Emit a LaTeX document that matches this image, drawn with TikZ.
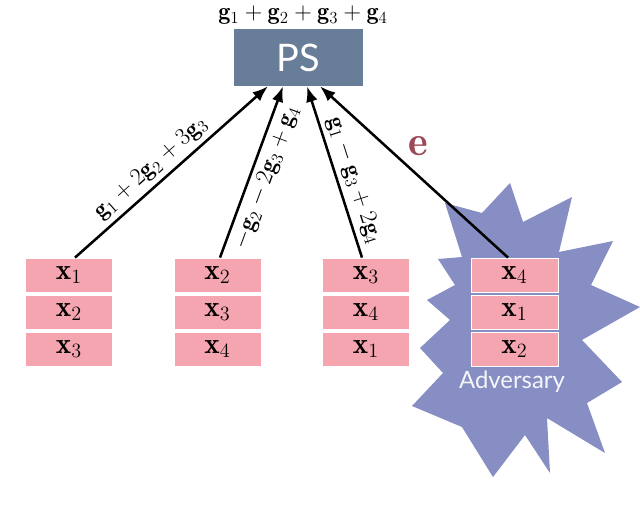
\documentclass[tikz,border=0pt]{standalone}
\usepackage{amsmath}
\usepackage{amssymb}
\usepackage{fontspec}
\newfontfamily\gillish{Lato}
\usetikzlibrary{arrows.meta}
\definecolor{psblue}{HTML}{687D98}
\definecolor{datapink}{HTML}{F5A5AF}
\definecolor{advblue}{HTML}{868EC3}
\definecolor{errred}{HTML}{9A4A58}
\newcommand{\gv}{\mathbf{g}}
\newcommand{\xv}{\mathbf{x}}

\begin{document}
\begin{tikzpicture}[x=0.025cm, y=-0.025cm, >=Latex,
    psbox/.style={fill=psblue, text=white, minimum width=3.225cm, minimum height=1.425cm,
      inner sep=0pt, font=\gillish\fontsize{27}{30}\selectfont},
    databox/.style={fill=datapink, draw=white, line width=0.6pt, minimum width=2.175cm,
      minimum height=0.85cm, inner sep=0pt, font=\huge},
    msg/.style={line width=1.8pt},
    lbl/.style={font=\LARGE, sloped}]
  \useasboundingbox (0,0) rectangle (640,516);

  % the adversary's burst, behind everything else
  \fill[advblue] (445,203) -- (482,213) -- (510,183) -- (523,222) -- (572,197)
    -- (559,252) -- (613,241) -- (591,285) -- (640,307) -- (582,340) -- (622,382)
    -- (587,403) -- (605,453) -- (547,418) -- (550,473) -- (525,435) -- (493,477)
    -- (462,427) -- (412,406) -- (443,373) -- (420,348) -- (450,320) -- (427,300)
    -- (455,285) -- (438,259) -- (462,257) -- cycle;

  \node[font=\LARGE] (SUM) at (303,15) {$\gv_1 + \gv_2 + \gv_3 + \gv_4$};
  \node[psbox] (PS) at (298.5,57.5) {PS};

  \node[databox] (W11) at (69,275)    {$\xv_1$};
  \node[databox] (W12) at (69,312)    {$\xv_2$};
  \node[databox] (W13) at (69,349)    {$\xv_3$};
  \node[databox] (W21) at (217.5,275) {$\xv_2$};
  \node[databox] (W22) at (217.5,312) {$\xv_3$};
  \node[databox] (W23) at (217.5,349) {$\xv_4$};
  \node[databox] (W31) at (366,275)   {$\xv_3$};
  \node[databox] (W32) at (366,312)   {$\xv_4$};
  \node[databox] (W33) at (366,349)   {$\xv_1$};
  \node[databox] (W41) at (514.5,275) {$\xv_4$};
  \node[databox] (W42) at (514.5,312) {$\xv_1$};
  \node[databox] (W43) at (514.5,349) {$\xv_2$};
  \node[font=\gillish\fontsize{17}{20}\selectfont, text=white!92!advblue] (ADV) at (512,382) {Adversary};

  \path[->, msg] ([xshift=0.15cm]W11.north) edge node[lbl, above, pos=0.45] {$\gv_1 + 2\gv_2 + 3\gv_3$} ([xshift=-0.7625cm]PS.south);
  \path[->, msg] ([xshift=0.0625cm]W21.north) edge node[lbl, below, pos=0.5] {$-\gv_2 - 2\gv_3 + \gv_4$} ([xshift=-0.3875cm]PS.south);
  \path[->, msg] ([xshift=-0.1cm]W31.north) edge node[lbl, above, pos=0.42] {$\gv_1 - \gv_3 + 2\gv_4$} ([xshift=0.2125cm]PS.south);
  \path[->, msg] ([xshift=-0.1625cm]W41.north) edge node[pos=0.56, above right, text=errred, font=\Huge] {\scalebox{1.2}{$\mathbf{e}$}} ([xshift=0.5375cm]PS.south);
\end{tikzpicture}
\end{document}
